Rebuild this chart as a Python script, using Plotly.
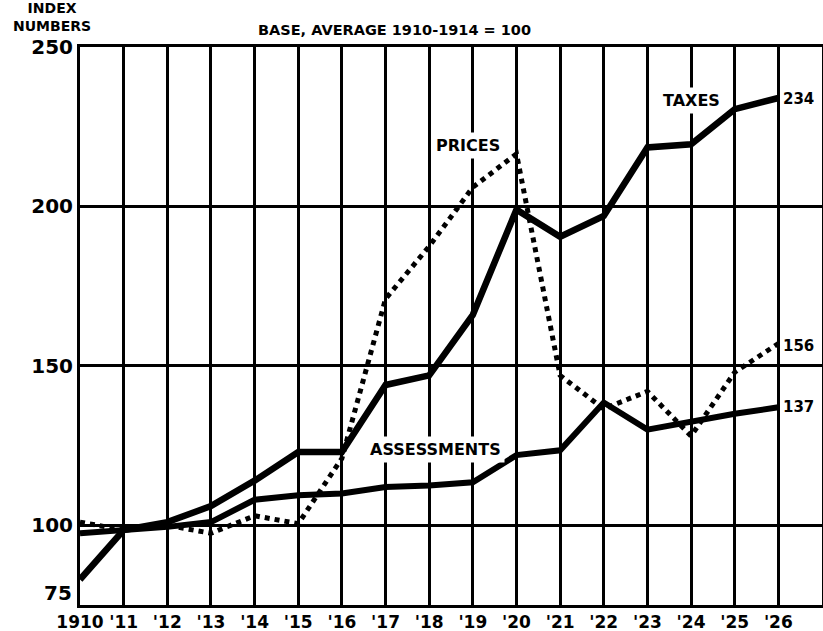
import plotly.graph_objects as go

years = list(range(1910, 1927))
taxes = [83, 98.5, 101, 106, 114, 123, 123, 144, 147, 166, 199, 190.5, 197, 218.5, 219.5, 230.5, 234]
prices = [101, 98.5, 100, 97.5, 103, 100.5, 121, 171, 187.5, 206, 216.5, 147, 136.5, 142, 128, 148, 157]
assessments = [97.5, 98.5, 99.5, 101, 108, 109.4, 110, 112, 112.5, 113.5, 122, 123.5, 138.5, 130, 132.5, 135, 137]

x_tick_vals = years
x_tick_text = ["1910"] + ["'" + str(y)[2:] for y in years[1:]]
y_tick_vals = [100, 150, 200, 250]
y_tick_text = ["100", "150", "200", "250"]
y_bottom_label = "75"

FONT = "DejaVu Sans"

fig = go.Figure()
fig.add_trace(go.Scatter(x=years, y=assessments, mode="lines",
                         line=dict(color="black", width=6), hoverinfo="skip"))
fig.add_trace(go.Scatter(x=years, y=prices, mode="lines",
                         line=dict(color="black", width=5, dash="5px,5px"), hoverinfo="skip"))
fig.add_trace(go.Scatter(x=years, y=taxes, mode="lines",
                         line=dict(color="black", width=6.5), hoverinfo="skip"))

def label(x, y, text, size=16, xanchor="center", bg="white", pad=3):
    fig.add_annotation(x=x, y=y, xref="x", yref="y", text="<b>" + text + "</b>",
                       showarrow=False, xanchor=xanchor, yanchor="middle",
                       font=dict(family=FONT, size=size, color="black"),
                       bgcolor=bg, borderpad=pad)

label(1924.0, 233.3, "TAXES")
label(1918.9, 219.2, "PRICES")
label(1918.15, 123.7, "ASSESSMENTS")
label(1926.05, 233.6, "234", size=15, xanchor="left", pad=1)
label(1926.05, 156.3, "156", size=15, xanchor="left", pad=1)
label(1926.05, 137.0, "137", size=15, xanchor="left", pad=1)

# bottom y label, raised slightly above the axis like the original
fig.add_annotation(x=0, y=75, xref="paper", yref="y", text="<b>" + y_bottom_label + "</b>",
                   showarrow=False, xanchor="right", yanchor="bottom",
                   font=dict(family=FONT, size=20, color="black"), xshift=-6, yshift=-2)

fig.add_annotation(x=0, y=1, xref="paper", yref="paper",
                   text="<b>INDEX<br>NUMBERS</b>", showarrow=False,
                   xanchor="center", yanchor="bottom", align="center",
                   font=dict(family=FONT, size=14, color="black"),
                   xshift=-28, yshift=11)
fig.add_annotation(x=0.4245, y=1, xref="paper", yref="paper",
                   text="<b>BASE, AVERAGE 1910-1914 = 100</b>", showarrow=False,
                   xanchor="center", yanchor="bottom",
                   font=dict(family=FONT, size=14.5, color="black"), yshift=7)

fig.update_layout(
    width=823, height=631,
    margin=dict(l=80, r=1, t=47, b=26, autoexpand=False),
    paper_bgcolor="white", plot_bgcolor="white",
    showlegend=False,
    xaxis=dict(range=[1910, 1927], tickvals=x_tick_vals, ticktext=x_tick_text,
               showgrid=True, gridcolor="black", gridwidth=2.5,
               showline=True, linecolor="black", linewidth=3, mirror=True,
               ticks="", zeroline=False,
               tickfont=dict(family=FONT, size=17, color="black", weight="bold")),
    yaxis=dict(range=[75, 250], tickvals=y_tick_vals, ticktext=y_tick_text,
               showgrid=True, gridcolor="black", gridwidth=2.5,
               showline=True, linecolor="black", linewidth=3, mirror=True,
               ticks="", zeroline=False,
               tickfont=dict(family=FONT, size=20, color="black", weight="bold")),
)
fig.write_html("out.html", config={"displayModeBar": False},
               post_script="document.body.style.margin='0';document.body.style.overflow='hidden';")
